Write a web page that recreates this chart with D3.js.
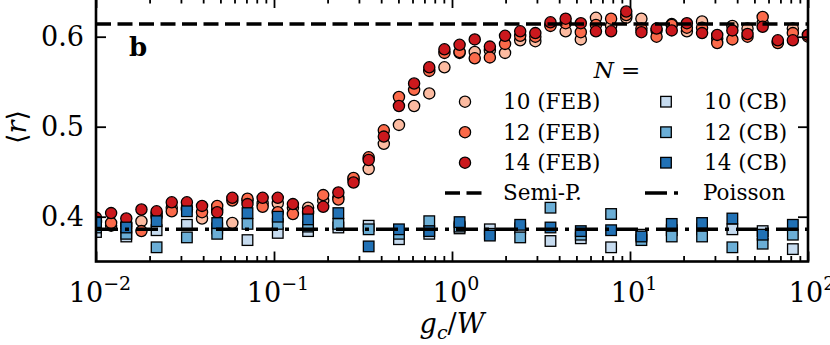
<!DOCTYPE html>
<html>
<head>
<meta charset="utf-8">
<script src="https://cdn.jsdelivr.net/npm/d3@7/dist/d3.min.js"></script>
<style>
  body { margin: 0; background: white; }
  svg { display: block; }
</style>
</head>
<body>
<div id="okvir"></div>
<script>
// g_c / W vrijednosti (log razmak, 48 tocaka) - FEB
const gFeb = [0.01, 0.01216, 0.0148, 0.018, 0.0219, 0.02664, 0.03241, 0.03942, 0.04796, 0.05834,
  0.07097, 0.08633, 0.105, 0.1277, 0.1554, 0.189, 0.2299, 0.2797, 0.3403, 0.4139,
  0.5035, 0.6125, 0.7452, 0.9067, 1.103, 1.342, 1.632, 1.986, 2.416, 2.939,
  3.575, 4.35, 5.292, 6.438, 7.832, 9.528, 11.59, 14.1, 17.16, 20.87,
  25.4, 30.9, 37.59, 45.73, 55.63, 67.68, 82.2, 100]
// CB - svaka druga tocka
const gCb = [0.01, 0.0148, 0.0219, 0.03241, 0.04796, 0.07097, 0.105, 0.1554, 0.2299, 0.3403,
  0.5035, 0.7452, 1.103, 1.632, 2.416, 3.575, 5.292, 7.832, 11.59, 17.16,
  25.4, 37.59, 55.63, 82.2]

const feb10 = [0.394, 0.390, 0.389, 0.395, 0.400, 0.410, 0.408, 0.398, 0.408, 0.393,
  0.418, 0.415, 0.415, 0.410, 0.410, 0.418, 0.421, 0.441, 0.453, 0.481,
  0.502, 0.523, 0.537, 0.566, 0.582, 0.583, 0.585, 0.582, 0.596, 0.595,
  0.613, 0.606, 0.597, 0.621, 0.612, 0.621, 0.620, 0.607, 0.614, 0.606,
  0.617, 0.598, 0.612, 0.609, 0.615, 0.594, 0.609, 0.602]
const feb12 = [0.396, 0.393, 0.392, 0.384, 0.403, 0.406, 0.410, 0.405, 0.412, 0.418,
  0.420, 0.411, 0.405, 0.403, 0.404, 0.424, 0.419, 0.443, 0.466, 0.496,
  0.533, 0.541, 0.562, 0.582, 0.583, 0.576, 0.577, 0.592, 0.601, 0.600,
  0.612, 0.615, 0.605, 0.613, 0.620, 0.624, 0.609, 0.600, 0.613, 0.610,
  0.610, 0.593, 0.597, 0.600, 0.622, 0.593, 0.604, 0.600]
const feb14 = [0.399, 0.404, 0.398, 0.408, 0.406, 0.416, 0.416, 0.412, 0.405, 0.421,
  0.414, 0.421, 0.421, 0.414, 0.406, 0.411, 0.427, 0.438, 0.463, 0.489,
  0.523, 0.548, 0.566, 0.586, 0.591, 0.597, 0.589, 0.601, 0.606, 0.604,
  0.616, 0.620, 0.615, 0.606, 0.606, 0.628, 0.605, 0.609, 0.607, 0.615,
  0.604, 0.602, 0.607, 0.603, 0.611, 0.596, 0.596, 0.602]

const cb10 = [0.383, 0.378, 0.385, 0.391, 0.387, 0.374, 0.382, 0.384, 0.388, 0.390,
  0.375, 0.381, 0.387, 0.386, 0.387, 0.373, 0.376, 0.366, 0.380, 0.385,
  0.386, 0.386, 0.384, 0.364]
const cb12 = [0.388, 0.381, 0.366, 0.377, 0.381, 0.392, 0.392, 0.389, 0.392, 0.386,
  0.381, 0.395, 0.389, 0.381, 0.377, 0.410, 0.380, 0.403, 0.374, 0.378,
  0.378, 0.366, 0.370, 0.380]
const cb14 = [0.394, 0.388, 0.395, 0.406, 0.393, 0.404, 0.400, 0.397, 0.404, 0.367,
  0.386, 0.384, 0.394, 0.379, 0.391, 0.388, 0.384, 0.385, 0.378, 0.392,
  0.393, 0.398, 0.380, 0.391]

const semiP = 0.614
const poisson = 0.386

const xTicks = [0.01, 0.1, 1, 10, 100]
const xTickExp = ["\u22122", "\u22121", "0", "1", "2"]
const yTicks = [0.4, 0.5, 0.6]

const serije = [
  { naziv: "10 (FEB)", x: gFeb, y: feb10, oblik: "circle", boja: "#fcbba1" },
  { naziv: "12 (FEB)", x: gFeb, y: feb12, oblik: "circle", boja: "#fb6a4a" },
  { naziv: "14 (FEB)", x: gFeb, y: feb14, oblik: "circle", boja: "#cb181d" },
  { naziv: "10 (CB)", x: gCb, y: cb10, oblik: "square", boja: "#c6dbef" },
  { naziv: "12 (CB)", x: gCb, y: cb12, oblik: "square", boja: "#6baed6" },
  { naziv: "14 (CB)", x: gCb, y: cb14, oblik: "square", boja: "#2171b5" },
]

const FONT = "'DejaVu Serif', 'Liberation Serif', serif"

function crtaj() {
  const dim = { sirina: 830, visina: 345, left: 96, right: 808, top: -2, bottom: 261.5 }

  const okvir = d3.select("#okvir").append("svg")
    .attr("width", dim.sirina)
    .attr("height", dim.visina)
    .attr("font-family", FONT)

  const xSkala = d3.scaleLog().domain([0.01, 100]).range([dim.left, dim.right])
  // 0.1 = 90px
  const ySkala = d3.scaleLinear()
    .domain([0.4 - (dim.bottom - 216.7) / 900, 0.6 + (36.7 - dim.top) / 900])
    .range([dim.bottom, dim.top])

  okvir.append("clipPath").attr("id", "clip")
    .append("rect")
    .attr("x", dim.left).attr("y", dim.top)
    .attr("width", dim.right - dim.left).attr("height", dim.bottom - dim.top)

  const tocke = okvir.append("g").attr("clip-path", "url(#clip)")

  serije.forEach(s => {
    const podaci = s.x.map((g, i) => [g, s.y[i]])
    if (s.oblik === "circle") {
      tocke.append("g").selectAll("circle").data(podaci).join("circle")
        .attr("cx", d => xSkala(d[0]))
        .attr("cy", d => ySkala(d[1]))
        .attr("r", 5.6)
        .attr("fill", s.boja)
        .attr("stroke", "black")
        .attr("stroke-width", 1.3)
    } else {
      tocke.append("g").selectAll("rect").data(podaci).join("rect")
        .attr("x", d => xSkala(d[0]) - 5.3)
        .attr("y", d => ySkala(d[1]) - 5.3)
        .attr("width", 10.6)
        .attr("height", 10.6)
        .attr("fill", s.boja)
        .attr("stroke", "black")
        .attr("stroke-width", 1.3)
    }
  })

  // referentne linije
  tocke.append("line")
    .attr("x1", dim.left).attr("x2", dim.right)
    .attr("y1", ySkala(semiP)).attr("y2", ySkala(semiP))
    .attr("stroke", "black").attr("stroke-width", 3.5)
    .attr("stroke-dasharray", "15,6.5")
  tocke.append("line")
    .attr("x1", dim.left).attr("x2", dim.right)
    .attr("y1", ySkala(poisson)).attr("y2", ySkala(poisson))
    .attr("stroke", "black").attr("stroke-width", 3.5)
    .attr("stroke-dasharray", "22,7,4,7")

  // minor tickovi za log os
  const minori = []
  for (let e = -2; e < 2; e++) {
    for (let m = 2; m <= 9; m++) minori.push(m * Math.pow(10, e))
  }

  const osi = [
    [d3.axisBottom(xSkala).tickValues(xTicks).tickSize(-10), `translate(0,${dim.bottom})`],
    [d3.axisBottom(xSkala).tickValues(minori).tickSize(-5.5), `translate(0,${dim.bottom})`],
    [d3.axisTop(xSkala).tickValues(xTicks).tickSize(-10), `translate(0,${dim.top})`],
    [d3.axisTop(xSkala).tickValues(minori).tickSize(-5.5), `translate(0,${dim.top})`],
    [d3.axisLeft(ySkala).tickValues(yTicks).tickSize(-10), `translate(${dim.left},0)`],
    [d3.axisRight(ySkala).tickValues(yTicks).tickSize(-10), `translate(${dim.right},0)`],
  ]
  osi.forEach(([gen, tr]) => {
    const g = okvir.append("g").attr("transform", tr).call(gen.tickFormat(""))
    g.select(".domain").remove()
    g.selectAll(".tick line").attr("stroke", "black").attr("stroke-width", 1.8)
  })

  okvir.append("rect")
    .attr("x", dim.left).attr("y", dim.top)
    .attr("width", dim.right - dim.left).attr("height", dim.bottom - dim.top)
    .attr("fill", "none").attr("stroke", "black").attr("stroke-width", 2.6)

  // oznake y osi
  okvir.append("g").selectAll("text").data(yTicks).join("text")
    .attr("x", 84)
    .attr("y", d => ySkala(d))
    .attr("dy", "0.36em")
    .attr("text-anchor", "end")
    .attr("font-family", FONT)
    .style("font-size", "27px")
    .text(d => d3.format(".1f")(d))

  // oznake x osi  10^n
  const xl = okvir.append("g").selectAll("text").data(xTicks).join("text")
    .attr("x", d => xSkala(d) + 4)
    .attr("y", 302)
    .attr("text-anchor", "middle")
    .attr("font-family", FONT)
    .style("font-size", "27px")
  xl.append("tspan").text("10")
  xl.append("tspan").attr("dy", -12).style("font-size", "19px").text((d, i) => xTickExp[i])

  // naslovi osi
  const xNaslov = okvir.append("text")
    .attr("x", 452).attr("y", 333)
    .attr("text-anchor", "middle")
    .attr("font-family", FONT)
    .style("font-size", "27px")
  xNaslov.append("tspan").style("font-style", "italic").text("g")
  xNaslov.append("tspan").attr("dy", 6).style("font-style", "italic").style("font-size", "19px").text("c")
  xNaslov.append("tspan").attr("dy", -6).text("/")
  xNaslov.append("tspan").style("font-style", "italic").text("W")

  const yNaslov = okvir.append("text")
    .attr("transform", "translate(26,127) rotate(-90)")
    .attr("text-anchor", "middle")
    .attr("font-family", FONT)
    .style("font-size", "27px")
  yNaslov.append("tspan").text("\u27E8")
  yNaslov.append("tspan").style("font-style", "italic").text("r")
  yNaslov.append("tspan").text("\u27E9")

  okvir.append("text")
    .attr("x", 129).attr("y", 56)
    .attr("font-family", FONT)
    .style("font-size", "26px")
    .style("font-weight", "bold")
    .text("b")

  // legenda
  const leg = okvir.append("g")
  const nEq = leg.append("text").attr("x", 617).attr("y", 78)
    .attr("text-anchor", "middle").attr("font-family", FONT).style("font-size", "23px")
  nEq.append("tspan").style("font-style", "italic").text("N")
  nEq.append("tspan").text(" =")

  serije.forEach((s, i) => {
    const stupac = i < 3 ? 0 : 1
    const red = i % 3
    const mx = stupac === 0 ? 465 : 666
    const my = 101.7 + red * 30.5
    if (s.oblik === "circle") {
      leg.append("circle").attr("cx", mx).attr("cy", my).attr("r", 5.6)
        .attr("fill", s.boja).attr("stroke", "black").attr("stroke-width", 1.3)
    } else {
      leg.append("rect").attr("x", mx - 5.3).attr("y", my - 5.3)
        .attr("width", 10.6).attr("height", 10.6)
        .attr("fill", s.boja).attr("stroke", "black").attr("stroke-width", 1.3)
    }
    leg.append("text").attr("x", mx + 38).attr("y", my + 7.5)
      .attr("font-family", FONT)
      .style("font-size", "21.5px")
      .text(s.naziv)
  })

  const linijeLeg = [
    { naziv: "Semi-P.", x: 445, crta: "15,6.5" },
    { naziv: "Poisson", x: 645, crta: "22,7,4,7" },
  ]
  linijeLeg.forEach(l => {
    leg.append("line")
      .attr("x1", l.x).attr("x2", l.x + 37)
      .attr("y1", 193).attr("y2", 193)
      .attr("stroke", "black").attr("stroke-width", 3.5)
      .attr("stroke-dasharray", l.crta)
    leg.append("text").attr("x", l.x + 58).attr("y", 200)
      .attr("font-family", FONT)
      .style("font-size", "21.5px")
      .text(l.naziv)
  })
}
crtaj()
</script>
</body>
</html>
